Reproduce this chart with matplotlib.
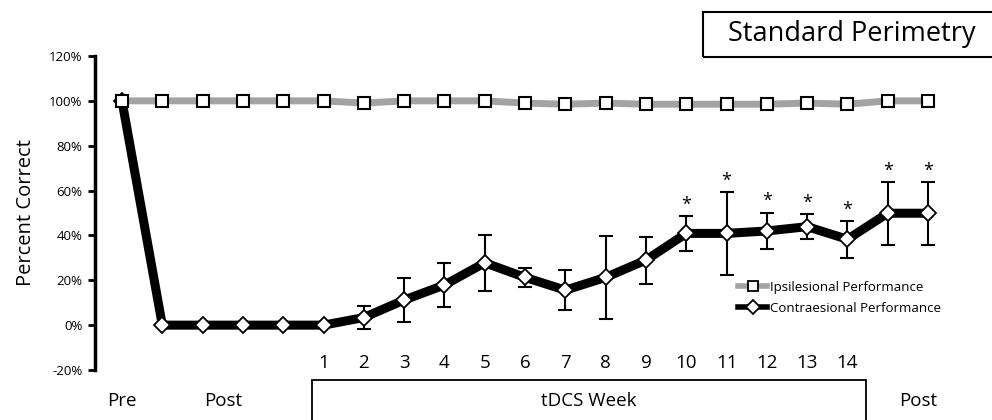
import numpy as np
import matplotlib.pyplot as plt
from matplotlib.patches import Rectangle
from matplotlib.lines import Line2D
import matplotlib.transforms as mtransforms

plt.rcParams['font.family'] = ['Open Sans', 'DejaVu Sans']

# data (percent correct)
sessions = np.arange(21)  # Pre, 4x Post, weeks 1-14, 2x Post
ipsi = [100, 100, 100, 100, 100, 100, 99, 100, 100, 100, 99,
        98.5, 99, 98.5, 98.5, 98.5, 98.5, 99, 98.5, 100, 100]
contra = [100, 0, 0, 0, 0, 0, 3.4, 11.2, 17.9, 27.8, 21.3,
          15.6, 21.3, 29.0, 40.9, 40.9, 42.0, 43.9, 38.3, 49.9, 49.9]
contra_err = [0, 0, 0, 0, 0, 0, 5.0, 9.8, 9.6, 12.6, 4.4,
              8.8, 18.5, 10.5, 7.9, 18.5, 8.2, 5.5, 8.3, 14.1, 14.1]
significant = [14, 15, 16, 17, 18, 19, 20]

week_labels = [str(w) for w in range(1, 15)]
week_pos = list(range(5, 19))
phase_labels = ['Pre', 'Post', 'Post']
phase_pos = [0, 2.5, 19.75]
yticks = [-20, 0, 20, 40, 60, 80, 100, 120]

fig = plt.figure(figsize=(9.92, 4.2), dpi=100)
ax = fig.add_axes([95 / 992, 50 / 420, 875 / 992, 314 / 420])

ax.errorbar(sessions, contra, yerr=contra_err, fmt='none', ecolor='black',
            elinewidth=1.5, capsize=5, capthick=1.5, zorder=2)
ax.plot(sessions, contra, color='black', lw=6.5, marker='D', ms=8,
        mfc='white', mec='black', mew=1.3, zorder=3)
ax.plot(sessions, ipsi, color='#a3a3a3', lw=5, marker='s', ms=8,
        mfc='white', mec='black', mew=1.5, zorder=4)

for i in significant:
    ax.text(sessions[i], contra[i] + contra_err[i] + 1.0, '*', ha='center',
            va='bottom', fontsize=13)

ax.set_xlim(-0.67, 21.04)
ax.set_ylim(-20, 120)
ax.set_yticks(yticks)
ax.set_yticklabels(['%d%%' % t for t in yticks], fontsize=9.5)
ax.set_xticks([])
for s in ['top', 'right', 'bottom']:
    ax.spines[s].set_visible(False)
ax.spines['left'].set_linewidth(2.5)
ax.tick_params(axis='y', direction='out', length=5, width=2, pad=4)
ax.set_ylabel('Percent Correct', fontsize=14.5, labelpad=9)

# labels under the plot, x in data, y in figure coords
trans = mtransforms.blended_transform_factory(ax.transData, fig.transFigure)
for p, lab in zip(week_pos, week_labels):
    ax.text(p, 0.136, lab, transform=trans, ha='center', va='center',
            fontsize=13.5, clip_on=False)
for p, lab in zip(phase_pos, phase_labels):
    ax.text(p, 0.045, lab, transform=trans, ha='center', va='center',
            fontsize=13.5, clip_on=False)
ax.add_patch(Rectangle((4.71, -0.01), 13.75, 0.105, transform=trans,
                       fill=False, lw=1.3, ec='black', clip_on=False))
ax.text(11.58, 0.045, 'tDCS Week', transform=trans, ha='center',
        va='center', fontsize=13.5, clip_on=False)

# title box
fig.patches.append(Rectangle((703 / 992, 1 - 57 / 420), 0.32, 45 / 420,
                             transform=fig.transFigure, fill=False,
                             lw=1.5, ec='black'))
fig.text(852 / 992, 1 - 34 / 420, 'Standard Perimetry', ha='center',
         va='center', fontsize=19.5)

handles = [
    Line2D([], [], color='#a3a3a3', lw=4, marker='s', ms=7, mfc='white',
           mec='black', mew=1.3),
    Line2D([], [], color='black', lw=4, marker='D', ms=7, mfc='white',
           mec='black', mew=1.3),
]
fig.legend(handles, ['Ipsilesional Performance', 'Contraesional Performance'],
           loc='upper left', bbox_to_anchor=(738 / 992, 1 - 281 / 420),
           frameon=False, fontsize=9.5, handlelength=2.2, handletextpad=0.2,
           borderpad=0, borderaxespad=0, labelspacing=0.6)

fig.savefig('out.png', dpi=100)
